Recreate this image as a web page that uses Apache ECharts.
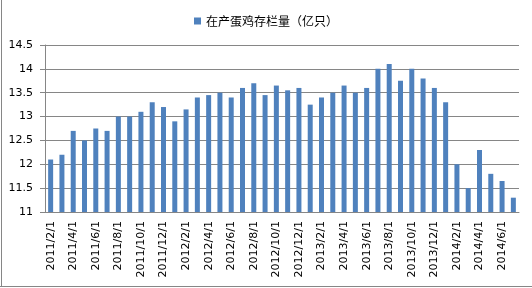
<!DOCTYPE html>
<html><head><meta charset="utf-8">
<script src="https://cdn.jsdelivr.net/npm/echarts@6/dist/echarts.min.js"></script>
<style>html,body{margin:0;padding:0;background:#fff}#c{width:532px;height:288px}</style>
</head><body><div id="c"></div>
<script>
const categories = ["2011/2/1","2011/3/1","2011/4/1","2011/5/1","2011/6/1","2011/7/1","2011/8/1","2011/9/1","2011/10/1","2011/11/1","2011/12/1","2012/1/1","2012/2/1","2012/3/1","2012/4/1","2012/5/1","2012/6/1","2012/7/1","2012/8/1","2012/9/1","2012/10/1","2012/11/1","2012/12/1","2013/1/1","2013/2/1","2013/3/1","2013/4/1","2013/5/1","2013/6/1","2013/7/1","2013/8/1","2013/9/1","2013/10/1","2013/11/1","2013/12/1","2014/1/1","2014/2/1","2014/3/1","2014/4/1","2014/5/1","2014/6/1","2014/7/1"];
const stock = [12.1,12.2,12.7,12.5,12.75,12.7,13.0,13.0,13.1,13.3,13.2,12.9,13.15,13.4,13.45,13.5,13.4,13.6,13.7,13.45,13.65,13.55,13.6,13.25,13.4,13.5,13.65,13.5,13.6,14.0,14.1,13.75,14.0,13.8,13.6,13.3,12.0,11.5,12.3,11.8,11.65,11.3];
const seriesName = "在产蛋鸡存栏量（亿只）";
const chart = echarts.init(document.getElementById('c'), null, {renderer:'canvas'});
chart.setOption({
  animation:false,
  backgroundColor:'#fff',
  textStyle:{fontFamily:'DejaVu Sans'},
  legend:{top:10,left:'center',itemWidth:7,itemHeight:7,itemGap:5,icon:'rect',
    textStyle:{fontFamily:'Noto Sans CJK SC',fontSize:12,color:'#000'},
    data:[seriesName]},
  grid:{left:45,right:13,top:45,bottom:76},
  xAxis:{type:'category',data:categories,boundaryGap:true,
    axisLine:{lineStyle:{color:'#868686'}},
    axisTick:{interval:1,length:5,lineStyle:{color:'#868686'}},
    axisLabel:{interval:1,rotate:90,fontSize:11,color:'#000',margin:9,fontFamily:'DejaVu Sans'}},
  yAxis:{type:'value',min:11,max:14.5,interval:0.5,
    axisLine:{show:true,lineStyle:{color:'#868686'}},
    axisTick:{show:true,length:5,lineStyle:{color:'#868686'}},
    splitLine:{lineStyle:{color:'#868686'}},
    axisLabel:{fontSize:11,color:'#000',margin:12,fontFamily:'DejaVu Sans'}},
  series:[{name:seriesName,type:'bar',data:stock,barWidth:5,itemStyle:{color:'#4F81BD'}}],
  graphic:[
    {type:'line',shape:{x1:1.5,y1:0,x2:1.5,y2:287},style:{stroke:'#868686',lineWidth:1}},
    {type:'line',shape:{x1:0,y1:286.5,x2:532,y2:286.5},style:{stroke:'#868686',lineWidth:1}}
  ]
});
</script></body></html>
